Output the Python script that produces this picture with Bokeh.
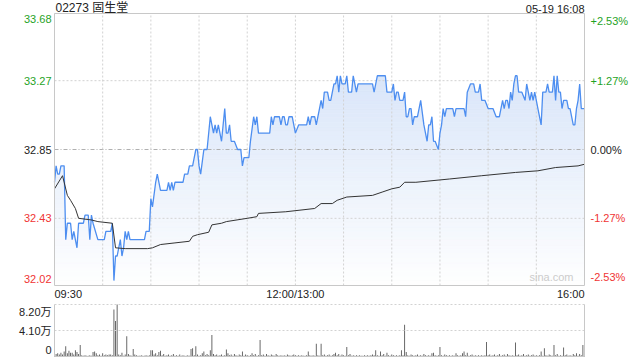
import numpy as np
from bokeh.plotting import figure
from bokeh.models import Label
from bokeh.layouts import column
from bokeh.embed import file_html
from bokeh.resources import INLINE

# ---------------- data ----------------
stock_title = "02273 固生堂"
stamp = "05-19 16:08"
prev_close = 32.85
y_ticks = [33.68, 33.27, 32.85, 32.43, 32.02]
y_labels = ["33.68", "33.27", "32.85", "32.43", "32.02"]
pct_labels = ["+2.53%", "+1.27%", "0.00%", "-1.27%", "-2.53%"]
time_ticks = [0, 150, 330]
time_labels = ["09:30", "12:00/13:00", "16:00"]
grid_minutes = [30, 60, 90, 120, 150, 180, 210, 240, 270, 300]
vol_ticks = [8.2, 4.1, 0]
vol_labels = ["8.20万", "4.10万", "0"]

# (trading minute since 09:30, price)
price_pts = [
    (0, 32.65), (1, 32.75), (2, 32.70), (3, 32.70), (4, 32.75), (6, 32.75), (7, 32.30), (8, 32.40),
    (10, 32.40), (11, 32.30), (12, 32.35), (13, 32.30), (14, 32.25), (15, 32.40), (18, 32.40),
    (19, 32.45), (21, 32.45), (22, 32.30), (23, 32.45), (24, 32.40), (27, 32.30), (31, 32.30),
    (32, 32.35), (35, 32.35), (36, 32.40), (37, 32.05), (38, 32.20), (39, 32.20), (40, 32.25),
    (41, 32.30), (42, 32.20), (43, 32.25), (44, 32.35), (45, 32.30), (46, 32.35), (47, 32.30),
    (56, 32.30), (57, 32.35), (59, 32.35), (60, 32.55), (61, 32.50), (63, 32.65), (64, 32.70),
    (66, 32.60), (70, 32.60), (71, 32.65), (72, 32.60), (73, 32.65), (74, 32.60), (75, 32.65),
    (80, 32.65), (81, 32.70), (83, 32.70), (84, 32.75), (86, 32.75), (87, 32.80), (88, 32.85),
    (89, 32.85), (90, 32.75), (91, 32.70), (93, 32.85), (95, 32.85), (97, 33.05), (99, 32.95),
    (100, 33.00), (101, 32.95), (102, 33.00), (104, 32.90), (106, 33.10), (107, 32.95), (108, 32.95),
    (109, 33.00), (110, 32.90), (112, 32.90), (114, 32.85), (116, 32.85), (117, 32.75), (118, 32.80),
    (121, 32.80), (122, 32.90), (124, 33.05), (125, 33.00), (126, 33.05), (127, 32.95), (134, 32.95),
    (135, 33.05), (136, 33.00), (137, 33.05), (140, 33.05), (141, 33.00), (142, 33.05), (143, 33.05),
    (144, 33.00), (145, 33.00), (146, 33.05), (148, 33.05), (149, 33.00), (150, 32.95), (152, 33.00),
    (157, 33.00), (158, 33.05), (159, 33.00), (160, 33.05), (162, 33.05), (163, 33.00), (164, 33.05),
    (165, 33.10), (166, 33.15), (167, 33.10), (168, 33.20), (170, 33.20), (171, 33.15), (172, 33.15),
    (173, 33.20), (174, 33.25), (175, 33.25), (176, 33.30), (177, 33.20), (178, 33.30), (179, 33.25),
    (181, 33.25), (182, 33.30), (183, 33.20), (185, 33.20), (186, 33.30), (187, 33.25), (188, 33.20),
    (189, 33.25), (198, 33.25), (199, 33.20), (201, 33.30), (206, 33.30), (207, 33.20), (210, 33.20),
    (211, 33.25), (212, 33.15), (213, 33.20), (214, 33.20), (215, 33.15), (217, 33.15), (218, 33.20),
    (219, 33.05), (220, 33.05), (221, 33.10), (222, 33.10), (223, 33.00), (224, 33.05), (226, 33.05),
    (227, 33.10), (228, 33.15), (230, 33.00), (231, 32.95), (232, 32.90), (233, 33.00), (234, 33.00),
    (235, 33.05), (236, 32.90), (237, 32.90), (239, 32.85), (240, 32.95), (241, 33.00), (242, 33.10),
    (243, 33.05), (244, 33.10), (248, 33.10), (249, 33.05), (250, 33.10), (255, 33.10), (256, 33.05),
    (257, 33.20), (259, 33.25), (261, 33.25), (262, 33.20), (264, 33.20), (265, 33.25), (266, 33.15),
    (268, 33.15), (270, 33.10), (273, 33.10), (275, 33.05), (277, 33.05), (279, 33.15), (280, 33.10),
    (281, 33.15), (282, 33.15), (283, 33.10), (284, 33.20), (285, 33.15), (286, 33.25), (287, 33.30),
    (288, 33.30), (289, 33.20), (291, 33.20), (293, 33.15), (294, 33.25), (295, 33.20), (296, 33.15),
    (297, 33.20), (298, 33.15), (299, 33.20), (300, 33.15), (301, 33.10), (303, 33.00), (304, 33.20),
    (306, 33.20), (307, 33.25), (308, 33.20), (310, 33.20), (311, 33.30), (312, 33.15), (313, 33.30),
    (314, 33.20), (315, 33.20), (316, 33.10), (317, 33.15), (319, 33.15), (320, 33.10), (321, 33.10),
    (323, 33.00), (324, 33.00), (325, 33.10), (326, 33.15), (327, 33.25), (328, 33.10), (330, 33.10),
]

# (trading minute, average price)
avg_pts = [
    (0, 32.61), (5, 32.69), (8, 32.57), (10, 32.54), (13, 32.49), (15, 32.43), (23, 32.42),
    (27, 32.41), (36, 32.40), (38, 32.25), (44, 32.245), (58, 32.245), (61, 32.25), (66, 32.27),
    (75, 32.28), (84, 32.29), (86, 32.32), (89, 32.33), (96, 32.345), (98, 32.39), (104, 32.40),
    (107, 32.41), (120, 32.43), (126, 32.44), (127, 32.46), (144, 32.47), (162, 32.49), (166, 32.52),
    (173, 32.52), (176, 32.54), (182, 32.56), (198, 32.57), (204, 32.59), (210, 32.61), (215, 32.62),
    (218, 32.65), (225, 32.65), (246, 32.67), (266, 32.69), (287, 32.71), (301, 32.72), (312, 32.74),
    (326, 32.75), (330, 32.76),
]

# volume per minute, in 万 shares (minute 0 .. 330)
volume = [
    0.5, 0.4, 0.5, 0.3, 0.6, 0.3, 0.8, 1.6, 0.5, 0.9,
    0.6, 0.6, 0.3, 1.0, 0.7, 0.4, 1.8, 0.2, 0.1, 0.2,
    0.1, 0.1, 0.2, 0.1, 0.7, 0.8, 0.5, 0.2, 0.3, 0.1,
    0.5, 0.2, 0.3, 0.2, 0.3, 0.3, 0.2, 7.4, 5.6, 8.2,
    0.3, 0.2, 0.6, 0.1, 0.3, 3.2, 0.4, 0.2, 0.1, 1.2,
    0.3, 0.2, 0.1, 0.1, 0.2, 0.1, 0.1, 0.2, 0.1, 0.2,
    1.0, 1.0, 0.3, 0.5, 0.2, 0.7, 0.9, 0.2, 0.4, 0.1,
    0.2, 0.3, 0.1, 0.2, 0.4, 0.1, 0.2, 0.1, 0.3, 0.1,
    0.2, 0.1, 0.1, 0.2, 0.1, 1.2, 1.3, 0.2, 1.6, 0.3,
    0.1, 0.2, 0.5, 0.8, 0.2, 0.4, 0.2, 1.0, 3.4, 0.4,
    0.2, 0.3, 0.1, 0.2, 0.3, 0.1, 0.2, 1.1, 0.5, 0.2,
    0.3, 0.1, 0.4, 0.2, 0.1, 0.3, 0.2, 0.8, 0.1, 0.3,
    0.2, 0.1, 0.2, 0.5, 0.2, 0.4, 0.1, 0.2, 2.6, 0.2,
    0.3, 0.1, 0.4, 0.2, 0.1, 0.3, 0.2, 0.1, 0.4, 0.2,
    0.1, 0.2, 0.1, 0.2, 0.1, 0.3, 0.2, 0.1, 0.2, 0.3,
    0.2, 0.1, 0.2, 0.1, 0.2, 0.1, 0.1, 0.2, 0.8, 0.2,
    0.1, 0.2, 0.1, 2.0, 0.2, 0.1, 2.0, 0.2, 0.3, 0.1,
    0.2, 0.3, 0.1, 0.2, 0.4, 0.6, 0.2, 0.4, 0.1, 0.3,
    0.2, 0.1, 1.5, 0.2, 0.4, 0.1, 0.2, 0.1, 0.2, 0.1,
    0.2, 0.1, 0.1, 0.2, 0.1, 0.2, 0.1, 0.2, 0.3, 0.2,
    1.0, 0.2, 0.1, 0.8, 0.2, 0.4, 0.1, 0.6, 0.2, 0.1,
    0.3, 0.2, 0.1, 0.2, 0.1, 0.2, 1.0, 0.2, 5.0, 0.7,
    0.2, 0.1, 0.3, 0.2, 0.1, 0.2, 0.3, 0.1, 0.2, 0.1,
    0.4, 0.2, 0.1, 0.2, 0.1, 0.5, 0.6, 0.2, 0.1, 0.2,
    1.5, 0.2, 0.1, 0.3, 0.2, 0.1, 0.2, 0.1, 0.2, 0.1,
    0.5, 0.2, 0.1, 0.2, 0.5, 0.8, 0.2, 0.6, 0.1, 0.2,
    0.3, 0.1, 0.2, 0.1, 0.2, 0.1, 0.2, 0.1, 0.2, 2.3,
    0.2, 0.3, 0.1, 0.2, 0.3, 0.1, 0.2, 0.4, 0.1, 0.2,
    0.3, 0.1, 0.4, 0.2, 0.1, 0.2, 0.1, 2.2, 0.2, 0.3,
    0.1, 0.2, 0.4, 0.1, 0.2, 0.3, 0.1, 0.2, 0.3, 0.1,
    0.2, 0.1, 0.2, 0.8, 0.1, 1.3, 0.2, 0.1, 0.3, 0.2,
    0.1, 1.8, 0.2, 0.4, 0.1, 0.2, 0.1, 1.4, 0.2, 0.3,
    0.1, 0.2, 0.1, 0.4, 0.2, 0.5, 0.1, 0.4, 0.2, 1.8,
    2.2,
]

# ---------------- styles / layout ----------------
FONT = "Liberation Sans, Arial, Noto Sans CJK SC, sans-serif"
GREEN = "#1fa31f"
RED = "#f03434"
DARK = "#222222"
GRID = "#d2d2d2"
BORDER = "#c8c8c8"
label_colors = [GREEN, GREEN, DARK, RED, RED]
label_baselines = ["top", "middle", "middle", "middle", "bottom"]
label_yoffsets = [-1, 0, 0, 0, 3]

price_min = [m for m, _ in price_pts]
price_val = [v for _, v in price_pts]
avg_min = [m for m, _ in avg_pts]
avg_val = [v for _, v in avg_pts]

y_lo, y_hi = y_ticks[-1], y_ticks[0]
x_lo, x_hi = time_ticks[0], time_ticks[-1]

W = 640
PLOT_L, PLOT_R = 54, 584          # pixel edges of the chart box
H1, TOP1, BOT1 = 300, 13, 285     # price panel canvas height and box edges
H2, TOP2, BOT2 = 60, 4, 56        # volume panel canvas height and box edges

xpp = (x_hi - x_lo) / (PLOT_R - PLOT_L)
xr = (x_lo - PLOT_L * xpp, x_hi + (W - PLOT_R) * xpp)
ypp = (y_hi - y_lo) / (BOT1 - TOP1)
yr = (y_lo - (H1 - BOT1) * ypp, y_hi + TOP1 * ypp)
vpp = (vol_ticks[0] - vol_ticks[-1]) / (BOT2 - TOP2)
vr = (vol_ticks[-1] - (H2 - BOT2) * vpp, vol_ticks[0] + TOP2 * vpp)


def bare(height, y_range, x_range):
    f = figure(width=W, height=height, x_range=x_range, y_range=y_range,
               x_axis_type=None, y_axis_type=None, output_backend="svg",
               toolbar_location=None, min_border=0, min_border_left=0,
               min_border_right=0, min_border_top=0, min_border_bottom=0)
    f.outline_line_color = None
    f.background_fill_color = "white"
    f.border_fill_color = "white"
    f.grid.visible = False
    return f


p = bare(H1, yr, xr)

# vertical gradient backdrop, then white above price line
n_bands = 60
edges = np.linspace(y_lo, y_hi, n_bands + 1)
top_rgb = np.array([207, 223, 248])
cols = []
for i in range(n_bands):
    t = ((edges[i] + edges[i + 1]) / 2 - y_lo) / (y_hi - y_lo)
    c = (255 * (1 - t) + top_rgb * t).astype(int)
    cols.append("#%02x%02x%02x" % tuple(c))
p.quad(left=x_lo, right=x_hi, bottom=edges[:-1], top=edges[1:],
       fill_color=cols, line_color=cols, line_width=0.6)
p.varea(x=price_min, y1=price_val, y2=y_hi, fill_color="white")

# grid lines inside the box
inner_y = [yv for yv in y_ticks[1:-1] if yv != prev_close]
p.segment(x0=x_lo, x1=x_hi, y0=inner_y, y1=inner_y, line_color=GRID,
          line_dash="2 2", line_width=1)
p.segment(x0=x_lo, x1=x_hi, y0=prev_close, y1=prev_close, line_color="#b0b0b0",
          line_dash="4 2 1 2", line_width=1)
p.segment(x0=grid_minutes, x1=grid_minutes, y0=y_lo, y1=y_hi, line_color=GRID,
          line_dash="2 2", line_width=1)

p.line(price_min, price_val, line_color="#4d8ef0", line_width=1.3)
p.line(avg_min, avg_val, line_color="#333333", line_width=1)

# box
p.segment(x0=[x_lo, x_lo, x_lo, x_hi], x1=[x_hi, x_hi, x_lo, x_hi],
          y0=[y_lo, y_hi, y_lo, y_lo], y1=[y_lo, y_hi, y_hi, y_hi],
          line_color=BORDER, line_width=1)

# labels
for yv, lab, pl, col, bl, yo in zip(y_ticks, y_labels, pct_labels, label_colors,
                                     label_baselines, label_yoffsets):
    p.add_layout(Label(x=x_lo, y=yv, text=lab, x_offset=-3, y_offset=yo,
                       text_align="right", text_baseline=bl, text_color=col,
                       text_font=FONT, text_font_size="11px"))
    p.add_layout(Label(x=x_hi, y=yv, text=pl, x_offset=6, y_offset=yo,
                       text_align="left", text_baseline=bl, text_color=col,
                       text_font=FONT, text_font_size="11px"))
for xm, lab, al in zip(time_ticks, time_labels, ["left", "center", "right"]):
    p.add_layout(Label(x=xm, y=y_lo, text=lab, y_offset=-2, text_align=al,
                       text_baseline="top", text_color=DARK, text_font=FONT,
                       text_font_size="11px"))
p.add_layout(Label(x=x_lo, y=y_hi, text=stock_title, x_offset=1, y_offset=-1,
                   text_align="left", text_baseline="bottom", text_color=DARK,
                   text_font=FONT, text_font_size="12px"))
p.add_layout(Label(x=x_hi, y=y_hi, text=stamp, y_offset=-1,
                   text_align="right", text_baseline="bottom", text_color=DARK,
                   text_font=FONT, text_font_size="11px"))
p.add_layout(Label(x=x_hi, y=y_lo, text="sina.com", x_offset=-11, y_offset=3,
                   text_align="right", text_baseline="bottom", text_color="#cccccc",
                   text_font=FONT, text_font_size="11px"))

# ---------------- volume panel ----------------
v = bare(H2, vr, p.x_range)
v.vbar(x=list(range(len(volume))), top=volume, bottom=0, width=0.55,
       fill_color="#555555", line_color=None)
v.segment(x0=x_lo, x1=x_hi, y0=vol_ticks[:-1], y1=vol_ticks[:-1], line_color=GRID,
          line_dash="2 2", line_width=1)
v.segment(x0=[x_lo, x_hi, x_lo], x1=[x_lo, x_hi, x_hi],
          y0=[0, 0, 0], y1=[vol_ticks[0], vol_ticks[0], 0],
          line_color=BORDER, line_width=1)
for yv, lab, bl, yo in zip(vol_ticks, vol_labels, ["top", "middle", "bottom"], [-1, 0, 3]):
    v.add_layout(Label(x=x_lo, y=yv, text=lab, x_offset=-3, y_offset=yo,
                       text_align="right", text_baseline=bl, text_color=DARK,
                       text_font=FONT, text_font_size="11px"))

layout = column(p, v, spacing=0)
open("out.html", "w").write(file_html(layout, INLINE))
